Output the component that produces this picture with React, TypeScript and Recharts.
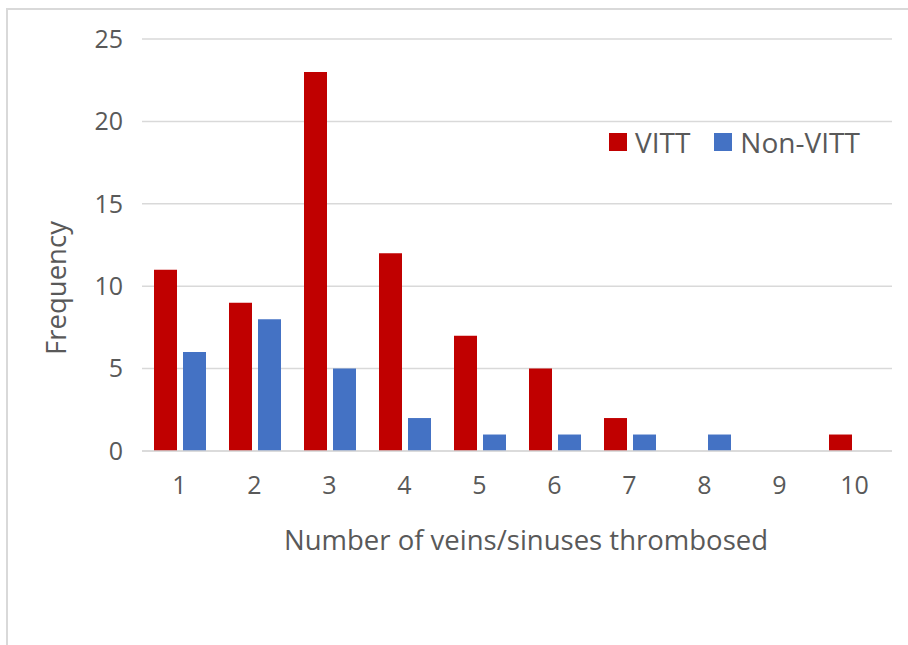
import React from 'react'
import { BarChart, Bar, XAxis, YAxis, CartesianGrid, Legend } from 'recharts'

const veinCounts = ['1', '2', '3', '4', '5', '6', '7', '8', '9', '10']
const vittFreq = [11, 9, 23, 12, 7, 5, 2, 0, 0, 1]
const nonVittFreq = [6, 8, 5, 2, 1, 1, 1, 1, 0, 0]
const yTicks = [0, 5, 10, 15, 20, 25]
const seriesNames = ['VITT', 'Non-VITT']

const FONT = '"Open Sans", sans-serif'
const TEXT = '#595959'

const chartData = veinCounts.map((n, i) => ({
  n,
  vitt: vittFreq[i],
  nonVitt: nonVittFreq[i]
}))

const renderLegend = ({ payload }: { payload?: { value: string; color: string }[] }) => {
  const items = [...(payload || [])].sort(
    (a, b) => seriesNames.indexOf(a.value) - seriesNames.indexOf(b.value)
  )
  return (
    <div style={{ display: 'flex', alignItems: 'center', fontFamily: FONT, fontSize: 28, color: TEXT }}>
      {items.map((item, i) => (
        <div key={i} style={{ display: 'flex', alignItems: 'center', marginRight: i === 0 ? 24 : 0 }}>
          <span style={{ width: 18, height: 18, background: item.color, display: 'inline-block', marginRight: 8 }} />
          <span style={{ lineHeight: '28px' }}>{item.value}</span>
        </div>
      ))}
    </div>
  )
}

export default function App() {
  return (
    <div
      style={{
        position: 'absolute',
        left: 6,
        top: 8,
        width: 910,
        height: 645,
        borderTop: '2px solid #d9d9d9',
        borderLeft: '2px solid #d9d9d9',
        overflow: 'hidden'
      }}
    >
      <BarChart
        width={900}
        height={635}
        data={chartData}
        margin={{ top: 29, right: 16, left: 0, bottom: 0 }}
        barSize={23}
        barGap={6}
      >
        <CartesianGrid vertical={false} stroke="#d9d9d9" strokeWidth={1.5} />
        <XAxis
          dataKey="n"
          height={194}
          axisLine={{ stroke: '#d9d9d9', strokeWidth: 1.5 }}
          tickLine={false}
          tickSize={0}
          tickMargin={25}
          tick={{ fill: TEXT, fontSize: 25, fontFamily: FONT }}
          label={({ viewBox }: any) => (
            <text
              x={viewBox.x + viewBox.width / 2 + 9}
              y={viewBox.y + 99}
              textAnchor="middle"
              fill={TEXT}
              fontSize={27.5}
              fontFamily={FONT}
            >
              Number of veins/sinuses thrombosed
            </text>
          )}
        />
        <YAxis
          width={134}
          domain={[0, 25]}
          ticks={yTicks}
          axisLine={false}
          tickLine={false}
          tickSize={0}
          tickMargin={19}
          tick={{ fill: TEXT, fontSize: 25, fontFamily: FONT }}
          label={() => (
            <text
              x={47}
              y={278}
              transform="rotate(-90, 47, 278)"
              textAnchor="middle"
              dominantBaseline="central"
              fill={TEXT}
              fontSize={27.5}
              fontFamily={FONT}
            >
              Frequency
            </text>
          )}
        />
        <Legend
          verticalAlign="middle"
          align="center"
          layout="horizontal"
          content={renderLegend as any}
          wrapperStyle={{ position: 'absolute', left: 601, top: 118, width: 'auto' }}
        />
        <Bar dataKey="vitt" name="VITT" fill="#c00000" isAnimationActive={false} />
        <Bar dataKey="nonVitt" name="Non-VITT" fill="#4472c4" isAnimationActive={false} />
      </BarChart>
    </div>
  )
}
